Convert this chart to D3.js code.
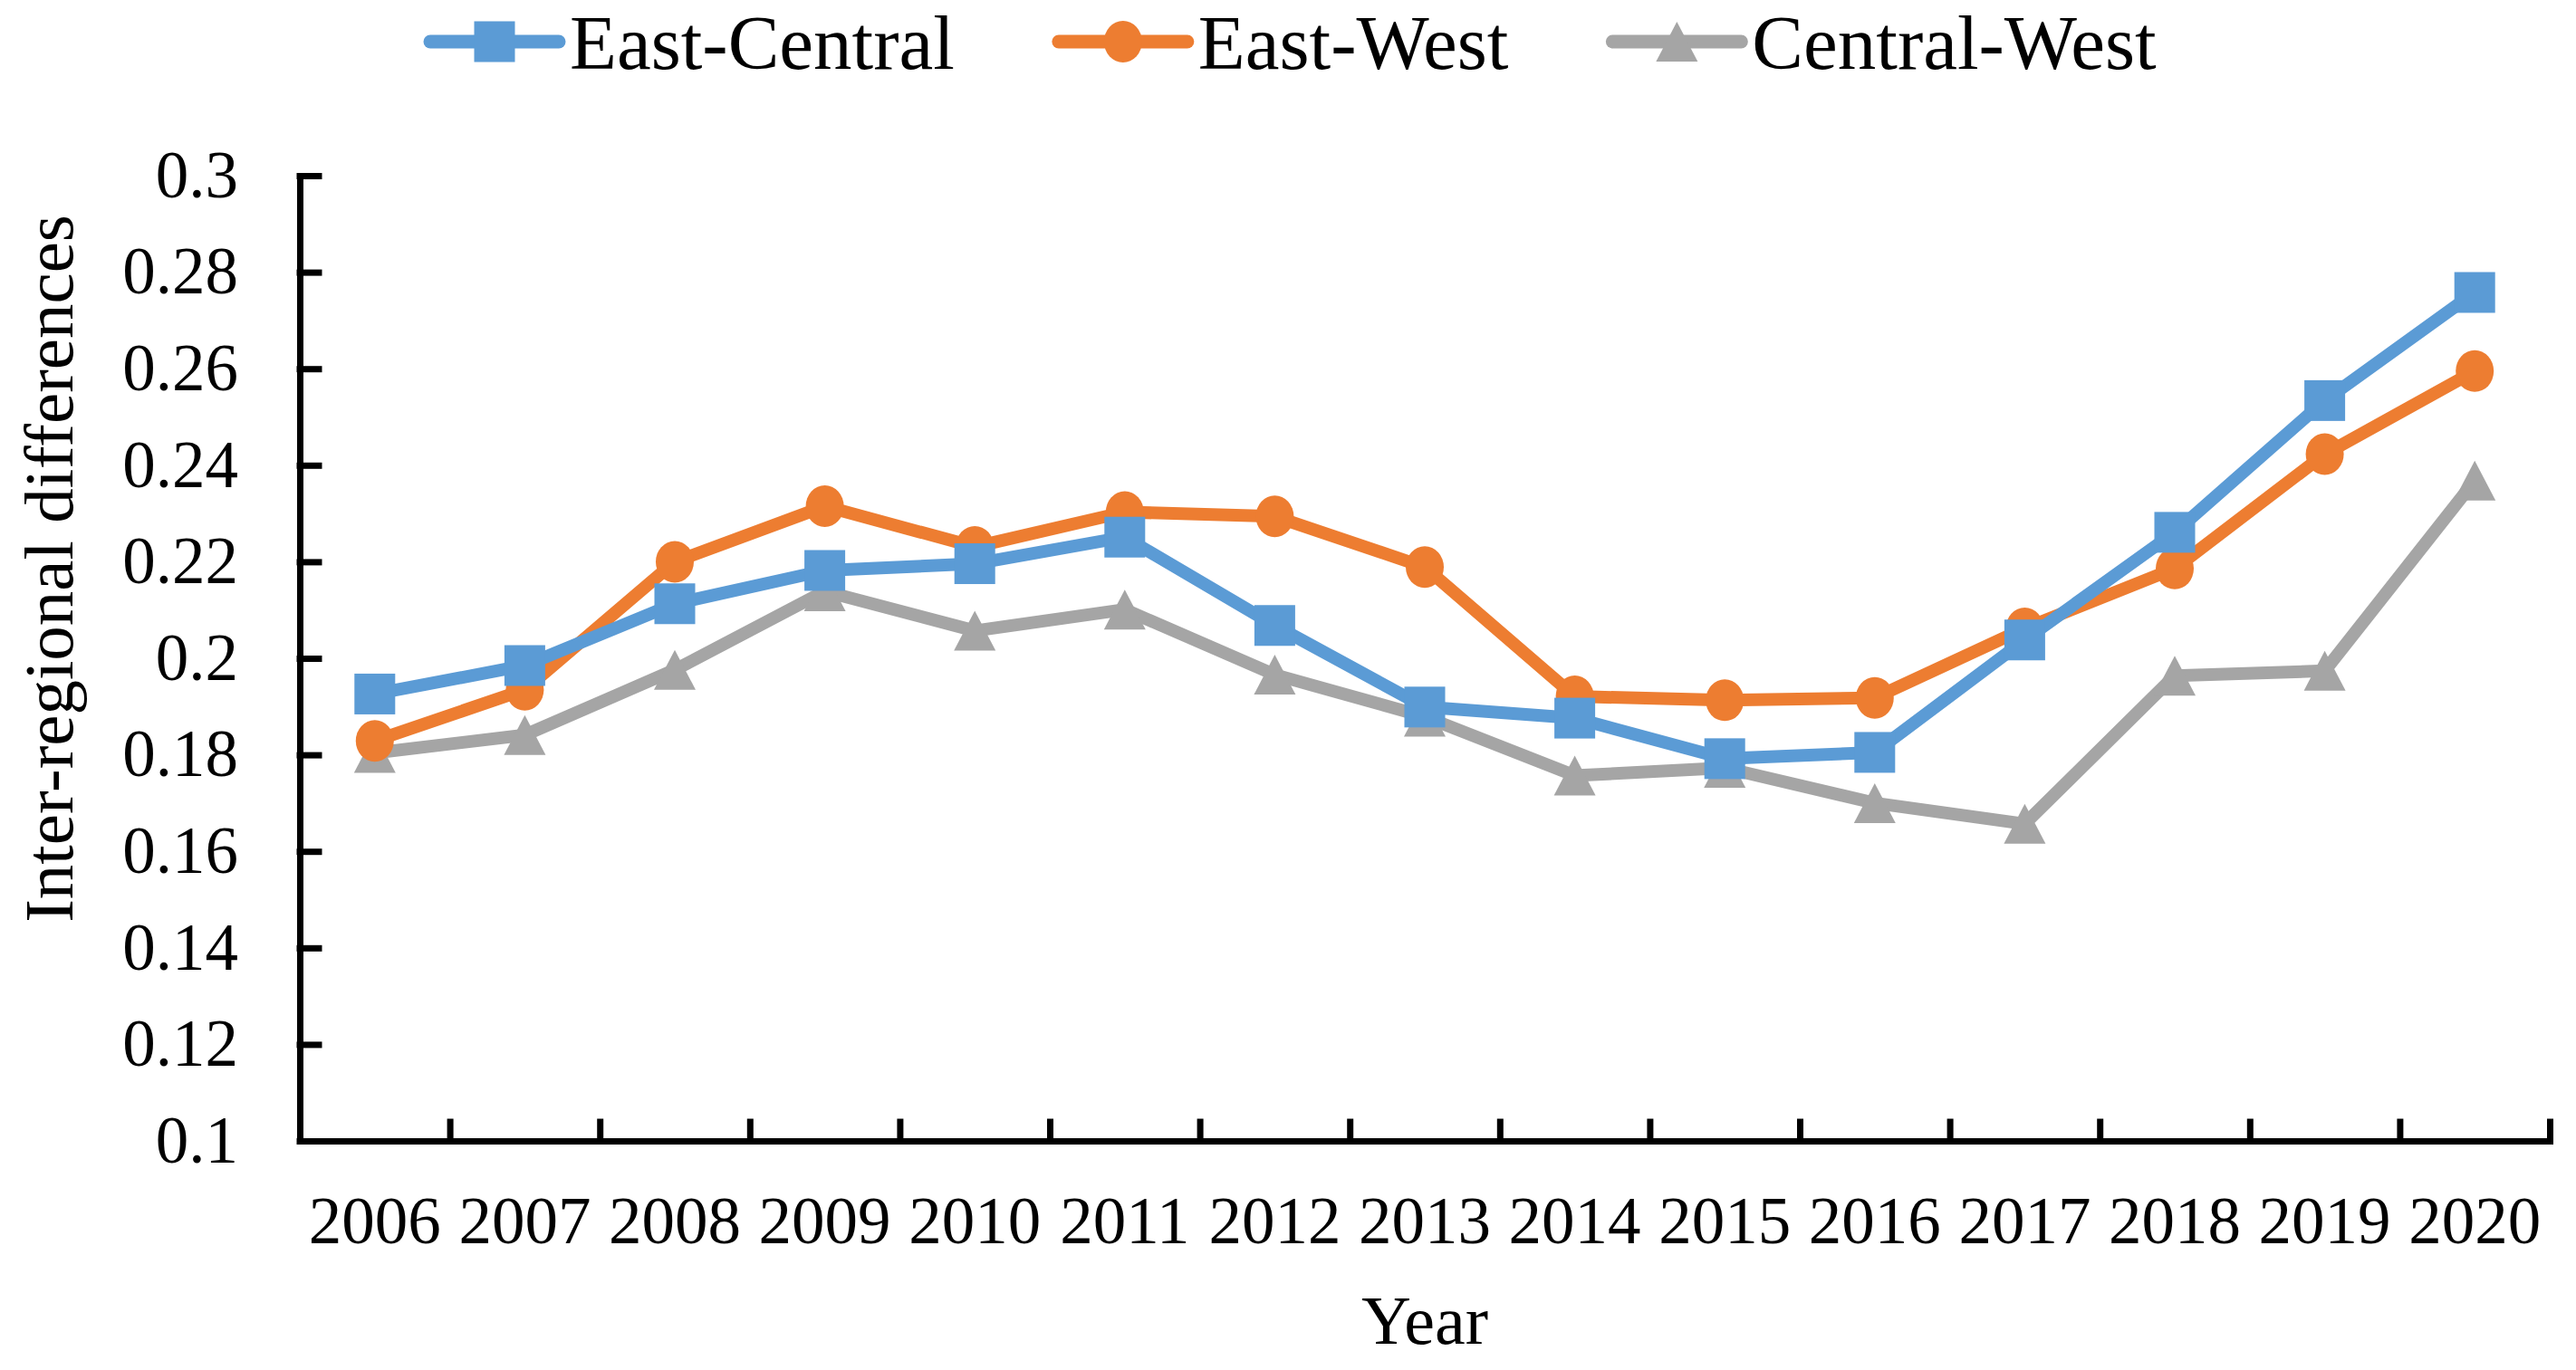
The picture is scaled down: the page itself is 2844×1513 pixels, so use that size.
<!DOCTYPE html>
<html>
<head>
<meta charset="utf-8">
<script src="https://cdn.jsdelivr.net/npm/d3@7"></script>
<style>
  body { margin: 0; background: #fff; }
  text { font-family: "Liberation Serif", "Times New Roman", serif; fill: #000; }
</style>
</head>
<body>
<script>
var years = ["2006","2007","2008","2009","2010","2011","2012","2013","2014","2015","2016","2017","2018","2019","2020"];
var eastCentral = [0.1926,0.1985,0.2113,0.2182,0.2196,0.2251,0.2068,0.1899,0.1876,0.1792,0.1805,0.2038,0.2261,0.2534,0.2758];
var eastWest = [0.1829,0.1935,0.2200,0.2315,0.2231,0.2303,0.2294,0.2189,0.1921,0.1913,0.1918,0.2062,0.2186,0.2423,0.2595];
var centralWest = [0.1804,0.1841,0.1976,0.2139,0.2057,0.2101,0.1966,0.1879,0.1757,0.1773,0.1700,0.1657,0.1964,0.1974,0.2368];
var yTicks = [0.1,0.12,0.14,0.16,0.18,0.2,0.22,0.24,0.26,0.28,0.3];
var yTickLabels = ["0.1","0.12","0.14","0.16","0.18","0.2","0.22","0.24","0.26","0.28","0.3"];
var seriesNames = ["East-Central","East-West","Central-West"];
var seriesColors = ["#5B9BD5","#ED7D31","#A5A5A5"];
var seriesMarkers = ["square","circle","triangle"];

var width = 2844, height = 1513;
var plotLeft = 331, plotRight = 2815, plotTop = 194, plotBottom = 1260;

var svg = d3.select("body").append("svg")
    .attr("width", width)
    .attr("height", height);

var x = d3.scaleBand().domain(years).range([plotLeft, plotRight]);
var xEdge = d3.scaleLinear().domain([0, years.length]).range([plotLeft, plotRight]);
var y = d3.scaleLinear().domain([0.1, 0.3]).range([plotBottom, plotTop]);

// y axis, ticks pointing inward
var yAxis = svg.append("g")
    .attr("transform", "translate(" + plotLeft + ",0)")
    .call(d3.axisLeft(y)
        .tickValues(yTicks)
        .tickFormat(function(d, i){ return yTickLabels[i]; })
        .tickSizeInner(-21)
        .tickSizeOuter(0)
        .tickPadding(68));

// x axis edge ticks between the years
var xAxisTicks = svg.append("g")
    .attr("transform", "translate(0," + plotBottom + ")")
    .call(d3.axisBottom(xEdge)
        .tickValues(d3.range(1, years.length + 1))
        .tickFormat("")
        .tickSizeInner(-21)
        .tickSizeOuter(0));

// year labels centred in each band
var xAxis = svg.append("g")
    .attr("transform", "translate(0," + plotBottom + ")")
    .call(d3.axisBottom(x).tickSize(0).tickPadding(61));
xAxis.select(".domain").remove();
xAxis.selectAll(".tick line").remove();

svg.selectAll(".domain, .tick line")
    .attr("stroke", "#000")
    .attr("stroke-width", 7)
    .attr("stroke-linecap", "square");
svg.selectAll(".tick text")
    .attr("font-family", "Liberation Serif")
    .attr("font-size", "73px")
    .attr("fill", "#000");

// axis titles
svg.append("text")
    .attr("transform", "translate(80,628) rotate(-90)")
    .style("text-anchor", "middle")
    .attr("font-size", "77px")
    .text("Inter-regional differences");

svg.append("text")
    .attr("x", (plotLeft + plotRight) / 2)
    .attr("y", 1484)
    .style("text-anchor", "middle")
    .attr("font-size", "76px")
    .text("Year");

function drawMarker(g, type, cx, cy, color) {
    if (type == "square") {
        g.append("rect")
            .attr("x", cx - 22.5).attr("y", cy - 22.5)
            .attr("width", 45).attr("height", 45)
            .attr("fill", color);
    } else if (type == "circle") {
        g.append("ellipse")
            .attr("cx", cx).attr("cy", cy)
            .attr("rx", 21).attr("ry", 23)
            .attr("fill", color);
    } else {
        g.append("path")
            .attr("d", "M" + cx + "," + (cy - 22) + "L" + (cx + 23) + "," + (cy + 22) + "L" + (cx - 23) + "," + (cy + 22) + "Z")
            .attr("fill", color);
    }
}

var allSeries = [eastCentral, eastWest, centralWest];
var line = d3.line()
    .x(function(d, i){ return x(years[i]) + x.bandwidth() / 2; })
    .y(function(d){ return y(d); });

// gray first, blue on top like the original
[2, 1, 0].forEach(function(s) {
    var g = svg.append("g");
    g.append("path")
        .datum(allSeries[s])
        .attr("d", line)
        .attr("fill", "none")
        .attr("stroke", seriesColors[s])
        .attr("stroke-width", 14)
        .attr("stroke-linejoin", "round")
        .attr("stroke-linecap", "round");
    allSeries[s].forEach(function(v, i) {
        drawMarker(g, seriesMarkers[s], x(years[i]) + x.bandwidth() / 2, y(v), seriesColors[s]);
    });
});

// legend
var lx = 475, ly = 46;
seriesNames.forEach(function(name, s) {
    var g = svg.append("g");
    g.append("line")
        .attr("x1", lx).attr("x2", lx + 142)
        .attr("y1", ly).attr("y2", ly)
        .attr("stroke", seriesColors[s])
        .attr("stroke-width", 15)
        .attr("stroke-linecap", "round");
    drawMarker(g, seriesMarkers[s], lx + 71, ly, seriesColors[s]);
    var t = g.append("text")
        .attr("x", lx + 154)
        .attr("y", 76)
        .attr("font-size", "85px")
        .text(name);
    lx = lx + 154 + t.node().getComputedTextLength() + 115;
});
</script>
</body>
</html>
